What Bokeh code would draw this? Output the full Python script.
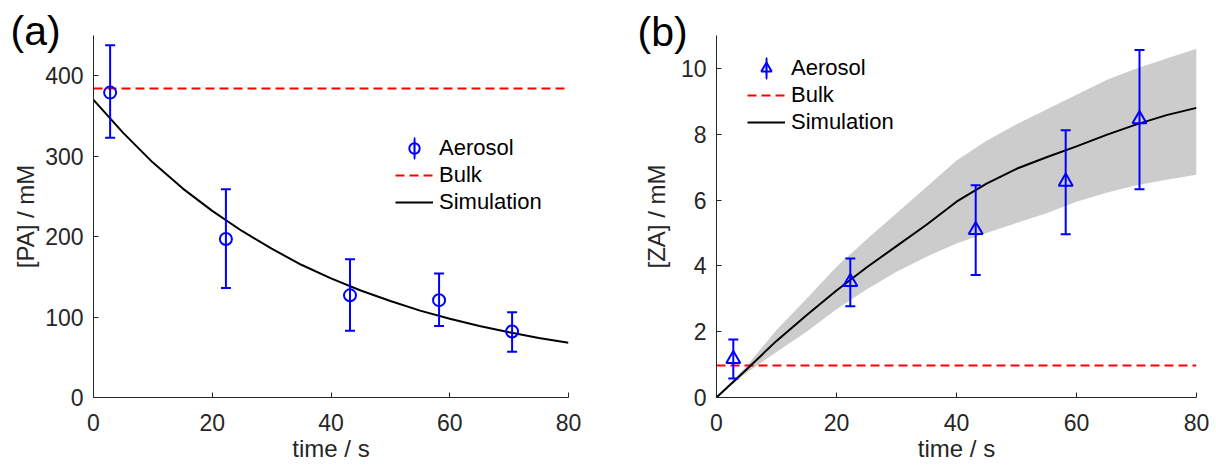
from bokeh.plotting import figure
from bokeh.models import (ColumnDataSource, Range1d, FixedTicker, Whisker, TeeHead,
                          Legend, LegendItem)
from bokeh.layouts import row
from bokeh.embed import file_html
from bokeh.resources import INLINE

# ---------------- data ----------------
t_obs = [2.8, 22.3, 43.2, 58.2, 70.5]

pa_obs = [379, 197, 127, 121, 82]
pa_hi = [438, 259, 172, 154, 106]
pa_lo = [323, 136, 83, 89, 57]
pa_bulk = 384

za_obs = [1.17, 3.51, 5.09, 6.56, 8.46]
za_hi = [1.76, 4.22, 6.45, 8.12, 10.56]
za_lo = [0.58, 2.77, 3.72, 4.96, 6.33]
za_bulk = 0.97

t_sim = [0, 5, 10, 15, 20, 25, 30, 35, 40, 45, 50, 55, 60, 65, 70, 75, 80]
pa_sim = [370, 329, 292, 260, 232, 207, 185, 165, 148, 133, 120, 108, 98, 89, 81, 74, 68]
za_sim = [0, 0.85, 1.72, 2.5, 3.25, 3.95, 4.6, 5.25, 5.95, 6.5, 6.95, 7.3, 7.63, 7.98, 8.3, 8.58, 8.8]
za_sim_lo = [0, 0.75, 1.38, 2.0, 2.68, 3.28, 3.82, 4.28, 4.68, 5.0, 5.3, 5.6, 5.95, 6.22, 6.45, 6.62, 6.77]
za_sim_hi = [0, 0.95, 2.05, 3.0, 3.97, 4.8, 5.6, 6.4, 7.2, 7.8, 8.3, 8.75, 9.2, 9.65, 10.0, 10.3, 10.6]

x_ticks = [0, 20, 40, 60, 80]
pa_ticks = [0, 100, 200, 300, 400]
za_ticks = [0, 2, 4, 6, 8, 10]

FONT = "Liberation Sans"
AX = "#262626"
BLUE = "#0000ff"
RED = "#ff0000"
BAND = "#cccccc"
NAN = float("nan")


def make_fig(width, border_left, border_right, yrange, yticks, ylabel, ylab_standoff,
             panel_tag, tag_offset, tag_standoff):
    p = figure(width=width, height=465, output_backend="svg", toolbar_location=None,
               x_range=Range1d(0, 80), y_range=Range1d(*yrange),
               min_border_left=border_left, min_border_right=border_right,
               min_border_top=35, min_border_bottom=68, title=panel_tag)
    p.title.text_font = FONT
    p.title.text_font_size = "41px"
    p.title.text_font_style = "normal"
    p.title.text_color = "black"
    p.title.align = "left"
    p.title.vertical_align = "bottom"
    p.title.offset = tag_offset
    p.title.standoff = tag_standoff
    p.outline_line_color = None
    p.xgrid.grid_line_color = None
    p.ygrid.grid_line_color = None
    p.background_fill_color = "white"
    p.border_fill_color = "white"
    p.xaxis.ticker = FixedTicker(ticks=x_ticks)
    p.yaxis.ticker = FixedTicker(ticks=yticks)
    p.xaxis.axis_label = "time / s"
    p.yaxis.axis_label = ylabel
    for ax in (p.xaxis[0], p.yaxis[0]):
        ax.axis_line_color = AX
        ax.axis_line_width = 1
        ax.major_tick_line_color = AX
        ax.major_tick_in = 5
        ax.major_tick_out = 0
        ax.minor_tick_line_color = None
        ax.major_label_text_font = FONT
        ax.major_label_text_font_size = "23px"
        ax.major_label_text_color = AX
        ax.axis_label_text_font = FONT
        ax.axis_label_text_font_size = "24px"
        ax.axis_label_text_font_style = "normal"
        ax.axis_label_text_color = AX
    p.xaxis.major_label_standoff = 16
    p.xaxis.axis_label_standoff = 1
    p.yaxis.major_label_standoff = 10
    p.yaxis.axis_label_standoff = ylab_standoff
    return p


def add_obs(p, obs, lo, hi, marker, size):
    src = ColumnDataSource(dict(t=t_obs, v=obs, lo=lo, hi=hi))
    w = Whisker(base="t", lower="lo", upper="hi", source=src, dimension="height",
                line_color=BLUE, line_width=2, level="overlay",
                upper_head=TeeHead(size=10, line_color=BLUE, line_width=2),
                lower_head=TeeHead(size=10, line_color=BLUE, line_width=2))
    p.add_layout(w)
    r = p.scatter("t", "v", source=src, marker=marker, size=size,
                  fill_color=None, line_color=BLUE, line_width=2)
    # legend-only thin upright ellipse = error bar stroke in the legend icon
    r_bar = p.ellipse(x=[NAN], y=[NAN], width=1, height=100,
                      width_units="screen", height_units="screen",
                      fill_color=None, line_color=BLUE, line_width=2)
    return r, r_bar


def add_legend(p, r_obs, r_bar, r_bulk, r_sim, loc):
    leg = Legend(items=[LegendItem(label="Aerosol", renderers=[r_bar, r_obs]),
                        LegendItem(label="Bulk", renderers=[r_bulk]),
                        LegendItem(label="Simulation", renderers=[r_sim])],
                 location=loc, padding=0, margin=0, spacing=1,
                 glyph_width=38, glyph_height=26, label_height=26, label_standoff=6,
                 label_text_font=FONT, label_text_font_size="22px", label_text_color="black",
                 border_line_alpha=0, background_fill_alpha=0)
    p.add_layout(leg)


# ---------------- panel (a) ----------------
p1 = make_fig(608, 93, 40, (0, 450), pa_ticks, "[PA] / mM", 3, "(a)", -83, -36)
r_bulk1 = p1.line(t_sim, [pa_bulk] * len(t_sim), line_color=RED, line_width=2, line_dash="9 5")
r_sim1 = p1.line(t_sim, pa_sim, line_color="black", line_width=2)
r_obs1, r_bar1 = add_obs(p1, pa_obs, pa_lo, pa_hi, "circle", 12)
add_legend(p1, r_obs1, r_bar1, r_bulk1, r_sim1, (302, 182))

# ---------------- panel (b) ----------------
p2 = make_fig(608, 108, 20, (0, 11), za_ticks, "[ZA] / mM", 8, "(b)", -79, -38)
p2.varea(x=t_sim, y1=za_sim_lo, y2=za_sim_hi, fill_color=BAND, fill_alpha=1)
r_bulk2 = p2.line(t_sim, [za_bulk] * len(t_sim), line_color=RED, line_width=2, line_dash="9 5")
r_sim2 = p2.line(t_sim, za_sim, line_color="black", line_width=2)
r_obs2, r_bar2 = add_obs(p2, za_obs, za_lo, za_hi, "triangle", 14)
add_legend(p2, r_obs2, r_bar2, r_bulk2, r_sim2, (31, 262))

layout = row(p1, p2)
open("out.html", "w").write(file_html(layout, INLINE))
